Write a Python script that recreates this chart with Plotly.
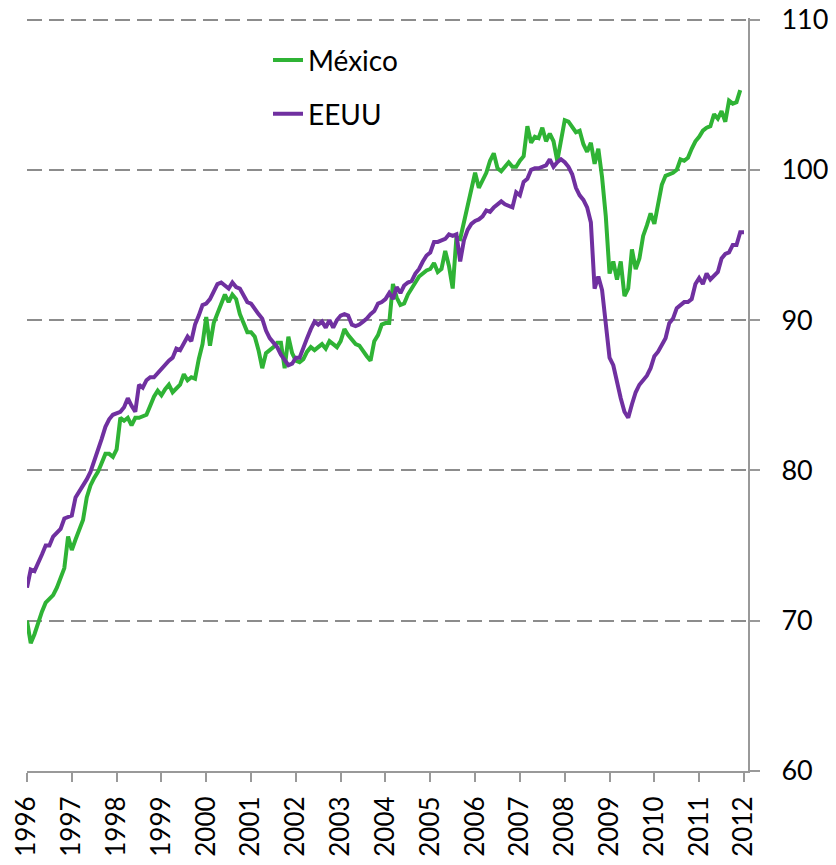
import plotly.graph_objects as go

start_year = 1996
year_ticks = list(range(1996, 2013))
tick_labels = [str(y) for y in year_ticks]
y_ticks = [60, 70, 80, 90, 100, 110]

mexico = [
    # 1996
    70.0, 68.5, 69.1, 69.9, 70.6, 71.2, 71.5, 71.7, 72.2, 72.8, 73.5, 75.6,
    # 1997
    74.7, 75.4, 76.0, 76.7, 78.2, 79.0, 79.5, 79.9, 80.5, 81.1, 81.1, 80.9,
    # 1998
    81.4, 83.5, 83.3, 83.5, 83.0, 83.5, 83.5, 83.6, 83.7, 84.3, 84.9, 85.3,
    # 1999
    85.0, 85.4, 85.7, 85.2, 85.5, 85.7, 86.4, 86.0, 86.2, 86.1, 87.4, 88.4,
    # 2000
    90.2, 88.3, 89.8, 90.4, 91.0, 91.7, 91.2, 91.7, 91.4, 90.4, 89.8, 89.2,
    # 2001
    89.2, 88.9, 88.0, 86.8, 87.8, 88.0, 88.2, 88.5, 88.5, 86.8, 88.9, 87.8,
    # 2002
    87.3, 87.2, 87.4, 87.9, 88.2, 88.0, 88.2, 88.4, 88.1, 88.6, 88.4, 88.2,
    # 2003
    88.6, 89.4, 89.0, 88.7, 88.4, 88.3, 87.9, 87.6, 87.3, 88.6, 89.0, 89.7,
    # 2004
    89.8, 89.8, 92.4, 91.5, 91.0, 91.1, 91.7, 92.1, 92.5, 92.9, 93.1, 93.3,
    # 2005
    93.4, 93.8, 93.2, 93.4, 94.6, 93.6, 92.1, 95.5, 95.4, 96.5, 97.4, 98.6,
    # 2006
    99.8, 98.8, 99.3, 99.8, 100.6, 101.1, 100.1, 99.9, 100.2, 100.5, 100.2, 100.2,
    # 2007
    100.6, 100.9, 102.9, 101.8, 102.2, 102.1, 102.8, 101.9, 102.4, 101.9, 100.6, 102.1,
    # 2008
    103.3, 103.2, 102.9, 102.5, 102.6, 101.7, 101.2, 101.8, 100.4, 101.4, 99.5, 96.9,
    # 2009
    93.1, 93.9, 92.7, 93.9, 91.6, 92.1, 94.7, 93.4, 94.1, 95.6, 96.3, 97.1,
    # 2010
    96.4, 97.6, 99.0, 99.6, 99.7, 99.8, 100.0, 100.7, 100.6, 100.8, 101.4, 101.9,
    # 2011
    102.2, 102.6, 102.8, 102.9, 103.7, 103.4, 103.9, 103.2, 104.6, 104.4, 104.5, 105.3,
]

eeuu = [
    # 1996
    72.2, 73.4, 73.3, 73.8, 74.4, 75.0, 75.0, 75.6, 75.9, 76.1, 76.8, 76.9,
    # 1997
    77.0, 78.2, 78.6, 78.9, 79.4, 79.9, 80.6, 81.3, 82.1, 82.9, 83.4, 83.7,
    # 1998
    83.8, 83.9, 84.2, 84.8, 84.3, 83.9, 85.7, 85.5, 86.0, 86.2, 86.2, 86.5,
    # 1999
    86.7, 87.0, 87.3, 87.5, 88.1, 88.0, 88.5, 88.9, 88.6, 89.7, 90.3, 91.0,
    # 2000
    91.1, 91.4, 91.9, 92.4, 92.5, 92.3, 92.1, 92.5, 92.2, 92.1, 91.7, 91.2,
    # 2001
    91.1, 90.7, 90.4, 90.1, 89.3, 88.8, 88.5, 88.2, 87.7, 87.3, 87.0, 87.1,
    # 2002
    87.5, 87.5, 88.2, 88.8, 89.4, 89.9, 89.7, 89.9, 89.5, 90.0, 89.5, 90.0,
    # 2003
    90.3, 90.4, 90.3, 89.7, 89.6, 89.7, 89.9, 90.1, 90.4, 90.6, 91.1, 91.2,
    # 2004
    91.4, 91.8, 91.4, 92.2, 91.8, 92.3, 92.5, 92.6, 93.1, 93.4, 93.9, 94.3,
    # 2005
    94.5, 95.2, 95.2, 95.3, 95.4, 95.7, 95.6, 95.7, 93.9, 95.3, 96.0, 96.4,
    # 2006
    96.6, 96.7, 96.9, 97.3, 97.2, 97.5, 97.7, 97.9, 97.7, 97.6, 97.5, 98.5,
    # 2007
    98.3, 99.2, 99.4, 100.0, 100.1, 100.1, 100.2, 100.3, 100.7, 100.2, 100.5, 100.7,
    # 2008
    100.5, 100.2, 99.7, 98.8, 98.3, 98.0, 97.5, 96.5, 92.1, 92.9, 92.0, 90.0,
    # 2009
    87.5, 87.0, 85.8, 84.8, 83.9, 83.5, 84.4, 85.2, 85.7, 86.0, 86.3, 86.8,
    # 2010
    87.6, 87.9, 88.3, 88.8, 89.8, 90.1, 90.8, 91.0, 91.2, 91.2, 91.4, 92.4,
    # 2011
    92.8, 92.4, 93.1, 92.7, 93.0, 93.2, 94.1, 94.4, 94.5, 95.0, 95.0, 95.85,
    # 2012
    95.85,
]

x_mex = [start_year + i / 12 for i in range(len(mexico))]
x_us = [start_year + i / 12 for i in range(len(eeuu))]

GREEN = "#2FB335"
PURPLE = "#7030A0"
AXIS = "#999999"
GRID = "#8C8C8C"
FONT = "Lato, 'Open Sans', sans-serif"

fig = go.Figure()
fig.add_trace(go.Scatter(x=x_mex, y=mexico, mode="lines", name="México",
                         line=dict(color=GREEN, width=4), legend="legend"))
fig.add_trace(go.Scatter(x=x_us, y=eeuu, mode="lines", name="EEUU",
                         line=dict(color=PURPLE, width=4), legend="legend2"))

# the page body adds an 8px offset; the figure is sized to fill the rest
OFF = 8
W, H = 836 - OFF, 865 - OFF
ml, mr, mt, mb = 27 - OFF, 88, 17.8 - OFF, 94
plot_h = H - mt - mb


def py(px):
    return 1 - (px - OFF - mt) / plot_h


def pxx(px):
    return (px - OFF - ml) / (W - ml - mr)


legend_common = dict(font=dict(family=FONT, size=28, color="#000000"),
                     bgcolor="rgba(0,0,0,0)", xanchor="left", yanchor="middle",
                     borderwidth=0, itemwidth=30)

fig.update_layout(
    width=W, height=H,
    margin=dict(l=ml, r=mr, t=mt, b=mb, autoexpand=False),
    paper_bgcolor="white", plot_bgcolor="white",
    showlegend=True,
    legend=dict(x=pxx(268), y=py(60), **legend_common),
    legend2=dict(x=pxx(268), y=py(114), **legend_common),
    font=dict(family=FONT, size=27, color="#000000"),
)

fig.update_xaxes(
    range=[1996, 2012.09], automargin=False,
    tickmode="array", tickvals=year_ticks, ticktext=tick_labels,
    tickangle=-90, tickfont=dict(family=FONT, size=26, color="#000000"),
    ticks="outside", ticklen=9, tickwidth=2, tickcolor=AXIS,
    ticklabelstandoff=4, ticklabeloverflow="allow",
    showline=True, linecolor=AXIS, linewidth=2,
    showgrid=False, zeroline=False,
)
fig.update_yaxes(
    range=[60, 110.1], side="right", automargin=False,
    tickmode="array", tickvals=y_ticks,
    tickfont=dict(family=FONT, size=27, color="#000000"),
    ticks="outside", ticklen=10, tickwidth=2, tickcolor=AXIS,
    ticklabelstandoff=16, ticklabeloverflow="allow",
    showline=True, linecolor=AXIS, linewidth=2,
    showgrid=True, gridcolor=GRID, gridwidth=2, griddash="15px,7px",
    zeroline=False,
)

fig.write_html("out.html")
